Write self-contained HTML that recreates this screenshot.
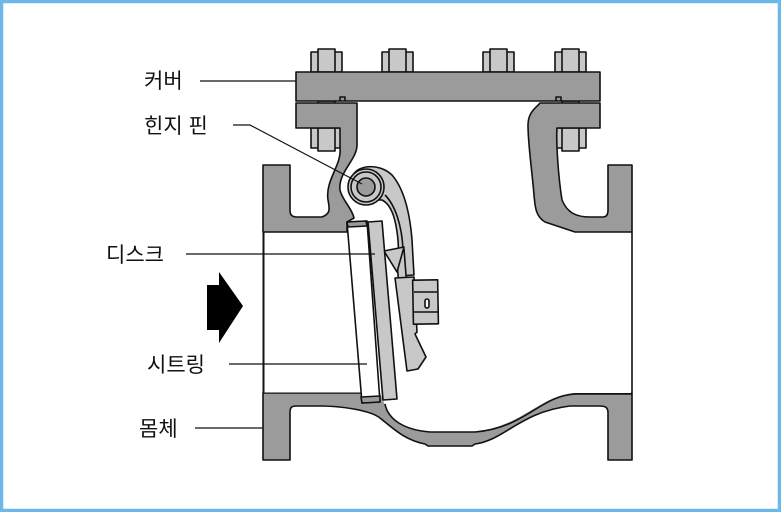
<!DOCTYPE html>
<html><head><meta charset="utf-8"><style>
html,body{margin:0;padding:0;background:#fff}
.w{width:781px;height:512px;position:relative;overflow:hidden}
text{font-family:"Liberation Sans","Noto Sans CJK KR","NanumGothic",sans-serif;font-size:21px;fill:#111}
</style></head><body><div class="w">
<svg width="781" height="512" viewBox="0 0 781 512" xmlns="http://www.w3.org/2000/svg">
<rect x="1.5" y="1.5" width="778" height="509" fill="#fff" stroke="#6cb8ea" stroke-width="3.5"/>
<g stroke="#111" stroke-width="1.6" stroke-linejoin="round">
<!-- bolts -->
<g fill="#c8c8c8">
<rect x="311" y="52" width="31" height="20"/><rect x="318" y="49" width="17" height="23"/>
<rect x="382" y="52" width="31" height="20"/><rect x="389" y="49" width="17" height="23"/>
<rect x="483" y="52" width="31" height="20"/><rect x="490" y="49" width="17" height="23"/>
<rect x="555" y="52" width="31" height="20"/><rect x="562" y="49" width="17" height="23"/>
<rect x="318" y="101" width="17" height="5"/><rect x="562" y="101" width="17" height="5"/>
<rect x="311" y="128" width="31" height="20"/><rect x="318" y="128" width="17" height="23"/>
<rect x="555" y="128" width="31" height="20"/><rect x="562" y="128" width="17" height="23"/>
</g>
<g fill="#9b9b9b">
<!-- upper left flange & neck -->
<path d="M263,165 L290,165 L290,210 C290,214 291,217 297,217 L322,217 C330,214 330,210 328,200 C325,180 342,165 340,148 L340,128 L296,128 L296,103 L357,103 L357,145 C357,160 338,172 340,190 C342,200 352,208 354,218 L347,222 L347,232 L263,232 Z"/>
<!-- upper right -->
<path d="M540,103 L600,103 L600,128 L557,128 C556,140 558,175 562,200 C567,212 575,217 590,217 L603,217 C607,217 608,214 608,210 L608,165 L632,165 L632,232 L575,232 L545,222 C535,216 535,205 534,195 C532,170 528,145 528,125 C528,112 536,108 540,103 Z"/>
<!-- bottom -->
<path d="M263,393 L632,393 L632,460 L608,460 L608,413 C608,408 606,406 600,406 L570,406 C520,412 505,440 475,444 L472,446 L428,446 L425,444 C405,440 395,430 380,418 C370,410 340,406 320,406 L296,406 C291,406 290,408 290,413 L290,460 L263,460 Z"/>
<!-- cover -->
<rect x="296" y="72" width="304" height="29"/>
<path d="M340,101 L340,97 L345,97 L345,101 M556,101 L556,97 L561,97 L561,101" fill="none"/>
</g>
<!-- inner bore -->
<path d="M264,233 L631,233 L631,393 L575,393 C540,395 525,425 475,432 L430,432 C405,432 392,420 385,405 L380,393 L264,393 Z" fill="#fff" stroke="none"/>
<line x1="263.5" y1="232" x2="263.5" y2="393" stroke-width="2"/>
<line x1="632" y1="232" x2="632" y2="393"/>
<line x1="263" y1="232" x2="347" y2="232" stroke-width="1"/>
<line x1="575" y1="232" x2="632" y2="232" stroke-width="1"/>
<line x1="263" y1="393" x2="362" y2="393" stroke-width="1"/>
<path d="M632,394 L575,394 C540,396 525,428 475,432 L430,432 C405,430 388,420 385,404" fill="none"/>
<!-- hinge arm -->
<path d="M352,178 C355,165 378,162 392,175 C405,190 410,215 412,240 L414,275 L400,276 L398,240 C396,220 392,205 382,200 C372,200 360,200 352,190 Z" fill="#c8c8c8"/>
<path d="M385,195 C395,205 402,225 403,250 L405,275" fill="none"/>
<circle cx="366" cy="187" r="18" fill="#c8c8c8"/>
<circle cx="366" cy="187" r="15" fill="#c8c8c8"/>
<circle cx="366" cy="187" r="9" fill="#9b9b9b"/>
<!-- disc parts -->
<path d="M396,249 L404,249 L411,340 L403,340 Z" fill="#c8c8c8"/>
<path d="M395,278 L414,277 L417,332 L415,334 L426,357 L418,369 L407,371 Z" fill="#c8c8c8"/>
<rect x="413" y="280" width="25" height="44" fill="#c8c8c8" transform="rotate(-1 425 300)"/>
<line x1="414" y1="292" x2="437" y2="292"/><line x1="414" y1="312" x2="438" y2="312"/>
<rect x="425" y="299" width="4" height="9" rx="2" fill="#fff"/>
<path d="M384,251 L404,247 L397,272 Z" fill="#c8c8c8"/>
<path d="M368,222 L382,221 L397,399 L383,400 Z" fill="#c8c8c8"/>
<path d="M347,222 L367,221 L380,402 L362,403 Z" fill="#fff"/>
<path d="M347,222 L366,221 L367,226 L348,227 Z" fill="#9b9b9b"/>
<path d="M361,397 L380,396 L380,402 L362,403 Z" fill="#9b9b9b"/>
</g>
<path d="M207,285 L219,285 L219,272 L243,306 L219,343 L219,330 L207,330 Z" fill="#000"/>
<g stroke="#111" stroke-width="1.2" fill="none">
<line x1="200" y1="81" x2="296" y2="81"/>
<path d="M233,125 L250,125 L362,184"/>
<line x1="186" y1="254" x2="375" y2="254"/>
<line x1="229" y1="364" x2="367" y2="364"/>
<line x1="195" y1="428" x2="263" y2="428"/>
</g>
<text x="144" y="88">커버</text>
<text x="144" y="133">힌지 핀</text>
<text x="106" y="262">디스크</text>
<text x="147" y="372">시트링</text>
<text x="139" y="436">몸체</text>
</svg>
</div></body></html>
